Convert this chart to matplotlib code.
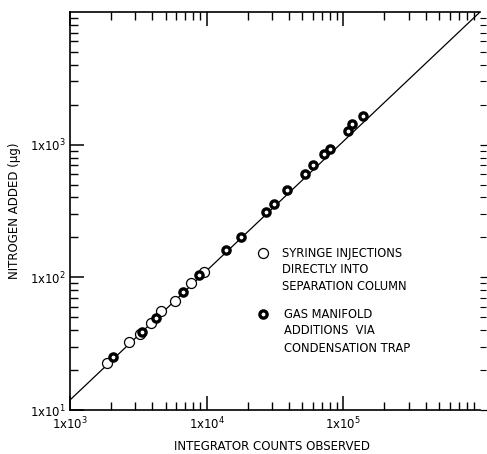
import matplotlib
matplotlib.use("Agg")
import matplotlib.pyplot as plt
from matplotlib.ticker import LogLocator, NullFormatter, FixedLocator

# ---- data ----
syringe_counts = [1868, 2685, 3235, 3917, 4649, 5821, 7689, 9548]
syringe_nitrogen = [22.6, 32.8, 37.7, 44.9, 55.7, 66.6, 90.3, 110.6]

manifold_counts = [2070, 3344, 4236, 6673, 8825, 13770, 17820, 27030, 30900,
                   38790, 52390, 59850, 71780, 79380, 108100, 115900, 139700]
manifold_nitrogen = [25.2, 39.0, 49.8, 77.8, 103.7, 161.1, 201.9, 312, 355.6,
                     451.6, 597, 708, 854, 929, 1265, 1442, 1642]

fit_counts = [1e3, 1e6]
fit_nitrogen = [11.9, 1.0e4]

x_major = [1e3, 1e4, 1e5]
x_labels = [r"1x$10^{3}$", r"1x$10^{4}$", r"1x$10^{5}$"]
y_major = [1e1, 1e2, 1e3]
y_labels = [r"1x$10^{1}$", r"1x$10^{2}$", r"1x$10^{3}$"]

legend_lines_1 = ["SYRINGE INJECTIONS", "DIRECTLY INTO", "SEPARATION COLUMN"]
legend_lines_2 = ["GAS MANIFOLD", "ADDITIONS  VIA", "CONDENSATION TRAP"]

W, H = 487, 454
fig = plt.figure(figsize=(W / 100, H / 100), dpi=100)
ax = fig.add_axes([70 / W, 1 - 410 / H, 410 / W, 398 / H])

ax.set_xscale("log")
ax.set_yscale("log")
ax.set_xlim(1e3, 1e6)
ax.set_ylim(1e1, 1e4)

open_style = dict(marker="o", markersize=7.2, markerfacecolor="white",
                  markeredgecolor="black", markeredgewidth=0.9, linestyle="none")
filled_style = dict(marker="o", markersize=5.2, markerfacecolor="white",
                    markeredgecolor="black", markeredgewidth=2.4, linestyle="none")

ax.plot(fit_counts, fit_nitrogen, color="black", lw=0.9, zorder=2)
ax.plot(syringe_counts, syringe_nitrogen, zorder=3, **open_style)
ax.plot(manifold_counts, manifold_nitrogen, zorder=4, **filled_style)

# spines
for s in ["left", "top", "bottom"]:
    ax.spines[s].set_linewidth(1.2)
ax.spines["right"].set_visible(False)

ax.set_xticks(x_major)
ax.set_xticklabels(x_labels)
ax.set_yticks(y_major)
ax.set_yticklabels(y_labels)
ax.xaxis.set_minor_locator(LogLocator(base=10, subs=range(2, 10), numticks=20))
ax.yaxis.set_minor_locator(LogLocator(base=10, subs=range(2, 10), numticks=20))
ax.xaxis.set_minor_formatter(NullFormatter())
ax.yaxis.set_minor_formatter(NullFormatter())

ax.tick_params(axis="both", which="major", direction="in", length=10, width=1.1,
               labelsize=8.5, top=True, right=False, pad=4)
ax.tick_params(axis="both", which="minor", direction="in", length=6, width=1.0,
               top=True, right=False)
ax.tick_params(axis="y", which="both", pad=3)

# right-hand ticks (outside, no spine)
sec = ax.secondary_yaxis("right")
sec.spines["right"].set_visible(False)
sec.yaxis.set_major_locator(FixedLocator(y_major))
sec.yaxis.set_minor_locator(LogLocator(base=10, subs=range(2, 10), numticks=20))
sec.yaxis.set_major_formatter(NullFormatter())
sec.yaxis.set_minor_formatter(NullFormatter())
sec.tick_params(which="major", direction="out", length=5, width=0.9)
sec.tick_params(which="minor", direction="out", length=4, width=0.8)

def fx(px):
    return px / W

def fy(py):
    return 1 - py / H

fig.text(fx(272), fy(447), "INTEGRATOR COUNTS OBSERVED", fontsize=8.5,
         ha="center", va="center")
ax.set_ylabel("NITROGEN ADDED (\u03bcg)", fontsize=8.5, labelpad=6)

# legend drawn as text block
fig.lines.append(plt.Line2D([fx(263)], [fy(253)], transform=fig.transFigure,
                            **open_style))
fig.lines.append(plt.Line2D([fx(263)], [fy(314)], transform=fig.transFigure,
                            **filled_style))
for i, t in enumerate(legend_lines_1):
    fig.text(fx(282), fy(253 + 16.5 * i), t, fontsize=8.3, va="center", ha="left")
for i, t in enumerate(legend_lines_2):
    fig.text(fx(284), fy(314 + 17 * i), t, fontsize=8.3, va="center", ha="left")

fig.savefig("out.png", dpi=100)
